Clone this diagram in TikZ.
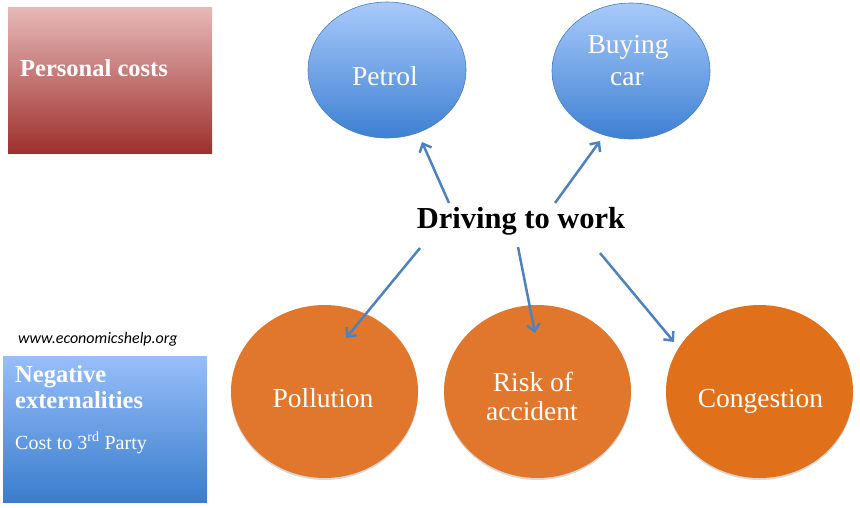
\documentclass[tikz,border=0pt]{standalone}
\usepackage{fontspec}
\setmainfont{Liberation Serif}
\newfontfamily\wwwfont{Carlito}
\usetikzlibrary{shapes.geometric,arrows.meta,shadows}
\definecolor{pinktop}{HTML}{E6B9B8}
\definecolor{redbot}{HTML}{9E302D}
\definecolor{bluetop}{HTML}{97BEF9}
\definecolor{bluebot}{HTML}{3A7DCD}
\definecolor{elltop}{HTML}{A8CAFA}
\definecolor{ellbot}{HTML}{3E80D3}
\definecolor{ellborder}{HTML}{4A7EBB}
\definecolor{orangeA}{HTML}{E0772D}
\definecolor{orangeB}{HTML}{E1701B}
\definecolor{arrowblue}{HTML}{4F81BD}
\tikzset{
  bluell/.style={ellipse, draw=ellborder, line width=0.6pt, top color=elltop, bottom color=ellbot,
    minimum width=158pt, minimum height=136pt, inner sep=0pt},
  orell/.style={ellipse, draw=none, fill=#1, minimum width=187pt, minimum height=173pt, inner sep=0pt,
    drop shadow={shadow xshift=0pt, shadow yshift=-2pt, opacity=0.25, fill=black!60}},
  etext/.style={text=white, font=\fontsize{27.5}{32}\selectfont, anchor=base, inner sep=0pt},
  boxtext/.style={text=white, anchor=base west, inner sep=0pt},
  arr/.style={draw=arrowblue, line width=2.5pt, -{Straight Barb[length=7pt,width=13pt]}}
}
\begin{document}
\begin{tikzpicture}[x=1pt,y=-1pt]
\useasboundingbox (0,0) rectangle (860,507);
% legend boxes
\shade[top color=pinktop, bottom color=redbot] (8,7) rectangle (212,153);
\node[boxtext, font=\bfseries\fontsize{24.5}{28}\selectfont] (pc) at (20,76) {Personal costs};
\node[anchor=base west, inner sep=0pt, font=\wwwfont\itshape\fontsize{16}{19}\selectfont] (www) at (18,343) {www.economicshelp.org};
\shade[top color=bluetop, bottom color=bluebot] (3,356) rectangle (207,502);
\node[boxtext, font=\bfseries\fontsize{24.5}{26}\selectfont] (neg1) at (15,382) {Negative};
\node[boxtext, font=\bfseries\fontsize{24.5}{26}\selectfont] (neg2) at (15,408) {externalities};
\node[boxtext, font=\fontsize{20}{22}\selectfont] (cost) at (15,449) {Cost to 3\textsuperscript{rd} Party};
% top ellipses
\node[bluell] (petrol) at (387,70) {};
\node[bluell] (buying) at (631,71) {};
\node[etext] (petrolt) at (385,85) {Petrol};
\node[etext] (buyingt1) at (628,53) {Buying};
\node[etext] (buyingt2) at (627,85) {car};
% bottom ellipses
\node[orell=orangeA] (pollution) at (324.5,391.5) {};
\node[orell=orangeA] (risk) at (537.5,391.5) {};
\node[orell=orangeB] (congestion) at (759.5,391.5) {};
\node[etext] (pollutiont) at (323,407) {Pollution};
\node[etext] (riskt1) at (533,391) {Risk of};
\node[etext] (riskt2) at (532,420) {accident};
\node[etext] (congestiont) at (760.5,407) {Congestion};
% centre
\node[anchor=base, inner sep=0pt, font=\bfseries\fontsize{30.5}{34}\selectfont] (drive) at (521,228) {Driving to work};
% connector ends
\coordinate (s1) at (449,203);
\coordinate (e1) at (422,142);
\coordinate (s2) at (555,203);
\coordinate (e2) at (600,141);
\coordinate (s3) at (420,248);
\coordinate (e3) at (346,338);
\coordinate (s4) at (518,247);
\coordinate (e4) at (535,333);
\coordinate (s5) at (600,253);
\coordinate (e5) at (674,342);
\draw[arr] (s1) -- (e1);
\draw[arr] (s2) -- (e2);
\draw[arr] (s3) -- (e3);
\draw[arr] (s4) -- (e4);
\draw[arr] (s5) -- (e5);
\end{tikzpicture}
\end{document}
